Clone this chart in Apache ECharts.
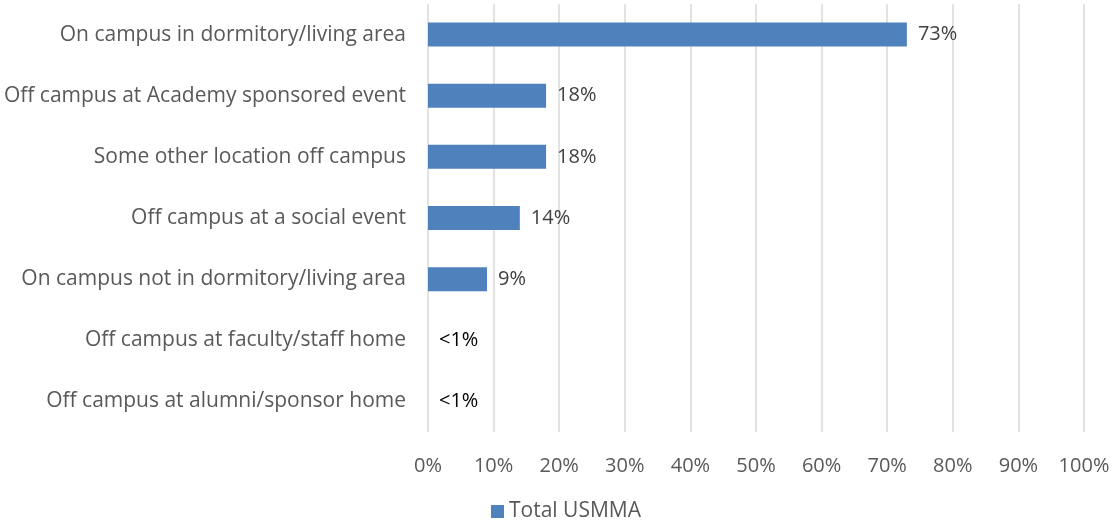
<!DOCTYPE html>
<html>
<head>
<meta charset="utf-8">
<script src="https://cdn.jsdelivr.net/npm/echarts@6/dist/echarts.min.js"></script>
<style>
  html, body { margin: 0; padding: 0; background: #fff; }
  #chart { width: 1113px; height: 529px; }
</style>
</head>
<body>
<div id="chart"></div>
<script>
// categories, top to bottom
const categories = [
  'On campus in dormitory/living area',
  'Off campus at Academy sponsored event',
  'Some other location off campus',
  'Off campus at a social event',
  'On campus not in dormitory/living area',
  'Off campus at faculty/staff home',
  'Off campus at alumni/sponsor home'
]
const values = [73, 18, 18, 14, 9, 0, 0]
const valueLabels = ['73%', '18%', '18%', '14%', '9%', '<1%', '<1%']
const tickValues = [0, 10, 20, 30, 40, 50, 60, 70, 80, 90, 100]

const font = '"Open Sans", sans-serif'

const myChart = echarts.init(document.getElementById('chart'))

const option = {
  backgroundColor: '#fff',
  animation: false,
  grid: {
    left: 428,
    right: 29,
    top: 4,
    bottom: 97
  },
  legend: {
    data: ['Total USMMA'],
    left: 486,
    bottom: 2,
    icon: 'rect',
    itemWidth: 13,
    itemHeight: 13,
    itemGap: 6,
    textStyle: { color: '#595959', fontSize: 21, fontFamily: font }
  },
  xAxis: {
    type: 'value',
    min: tickValues[0],
    max: tickValues[tickValues.length - 1],
    interval: 10,
    axisLine: { show: false },
    axisTick: { show: false },
    splitLine: { lineStyle: { color: '#d9d9d9', width: 1.5 } },
    axisLabel: {
      margin: 24,
      color: '#595959',
      fontSize: 20,
      fontFamily: font,
      formatter: v => v + '%'
    }
  },
  yAxis: {
    type: 'category',
    inverse: true,
    data: categories,
    axisLine: { show: false },
    axisTick: { show: false },
    axisLabel: {
      margin: 22,
      color: '#595959',
      fontSize: 21,
      fontFamily: font
    }
  },
  series: [
    {
      name: 'Total USMMA',
      type: 'bar',
      barWidth: 24,
      data: values.map(v => ({
        value: v,
        label: { color: v < 1 ? '#000' : '#404040' }
      })),
      itemStyle: { color: '#4f81bd' },
      label: {
        show: true,
        position: 'right',
        distance: 11,
        fontSize: 20,
        fontFamily: font,
        formatter: p => valueLabels[p.dataIndex]
      }
    }
  ]
}

myChart.setOption(option)
</script>
</body>
</html>
